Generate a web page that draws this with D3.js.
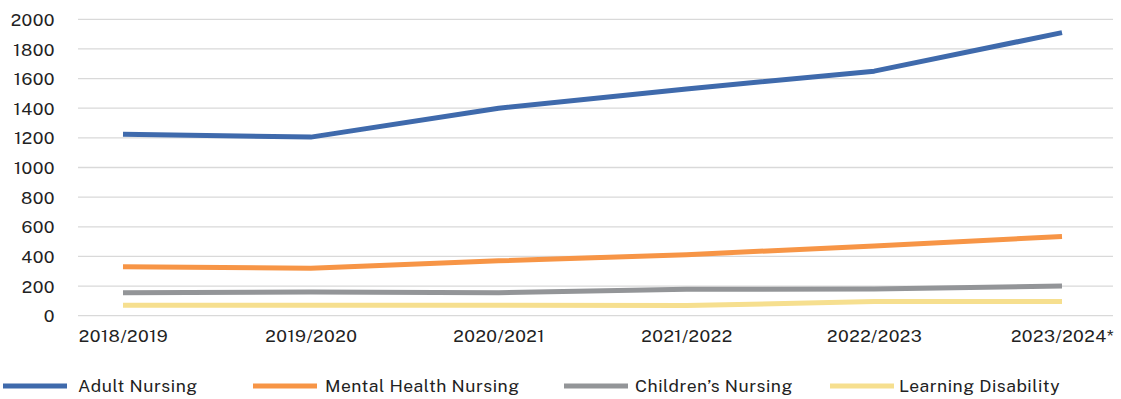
<!DOCTYPE html>
<html><head><meta charset="utf-8">
<script src="https://cdn.jsdelivr.net/npm/d3@7"></script>
<style>
html,body{margin:0;padding:0;background:#fff;}
svg text{font-family:"Public Sans","Inter","Open Sans",sans-serif;fill:#222;letter-spacing:0.5px;}
</style></head>
<body>
<svg id="chart" width="1121" height="399"></svg>
<script>
const categories = ["2018/2019","2019/2020","2020/2021","2021/2022","2022/2023","2023/2024*"];
const seriesNames = ["Adult Nursing","Mental Health Nursing","Children\u2019s Nursing","Learning Disability"];
const adultNursing = [1225, 1205, 1400, 1530, 1650, 1910];
const mentalHealthNursing = [330, 320, 370, 412, 470, 535];
const childrensNursing = [155, 160, 155, 178, 180, 200];
const learningDisability = [70, 70, 70, 68, 95, 95];
const yTicks = [0,200,400,600,800,1000,1200,1400,1600,1800,2000];
const colors = ["#3f6aac","#f79546","#939598","#f6df8f"];

const series = [adultNursing, mentalHealthNursing, childrensNursing, learningDisability];

const svg = d3.select("#chart");
const gridLeft = 78, gridRight = 1113;
const y = d3.scaleLinear().domain([0,2000]).range([315.7,19.3]);
const x = d3.scalePoint().domain(categories).range([123,1062]);

// gridlines
svg.append("g").selectAll("line").data(yTicks).join("line")
  .attr("x1",gridLeft).attr("x2",gridRight)
  .attr("y1",d=>y(d)).attr("y2",d=>y(d))
  .attr("stroke","#d9d9d9").attr("stroke-width",1.3);

// y axis labels
const yAxis = d3.axisLeft(y).tickValues(yTicks).tickSize(0).tickPadding(0).tickFormat(d3.format("d"));
const ya = svg.append("g").attr("transform","translate(55,0)").call(yAxis);
ya.select(".domain").remove();
ya.selectAll("text").attr("font-size","17.5px").attr("fill","#222").attr("dy","0.35em");

// x axis labels
const xAxis = d3.axisBottom(x).tickSize(0).tickPadding(0);
const xa = svg.append("g").attr("transform","translate(0,330)").call(xAxis);
xa.select(".domain").remove();
xa.selectAll("text").attr("font-size","17.5px").attr("fill","#222").attr("dy","0.71em");

// lines
const line = d3.line().x((d,i)=>x(categories[i])).y(d=>y(d));
series.slice().reverse().forEach((s,ri)=>{
  const i = series.length-1-ri;
  svg.append("path").datum(s).attr("d",line)
    .attr("fill","none").attr("stroke",colors[i]).attr("stroke-width",5)
    .attr("stroke-linejoin","round");
});

// legend
const legX = [3, 253, 564, 830];
const legTextX = [78, 325, 635, 899];
const lg = svg.append("g");
seriesNames.forEach((n,i)=>{
  lg.append("line").attr("x1",legX[i]).attr("x2",legX[i]+64)
    .attr("y1",386).attr("y2",386).attr("stroke",colors[i]).attr("stroke-width",5);
  lg.append("text").attr("x",legTextX[i]).attr("y",386).attr("dy","0.35em")
    .attr("font-size","17.5px").text(n);
});
</script>
</body></html>
